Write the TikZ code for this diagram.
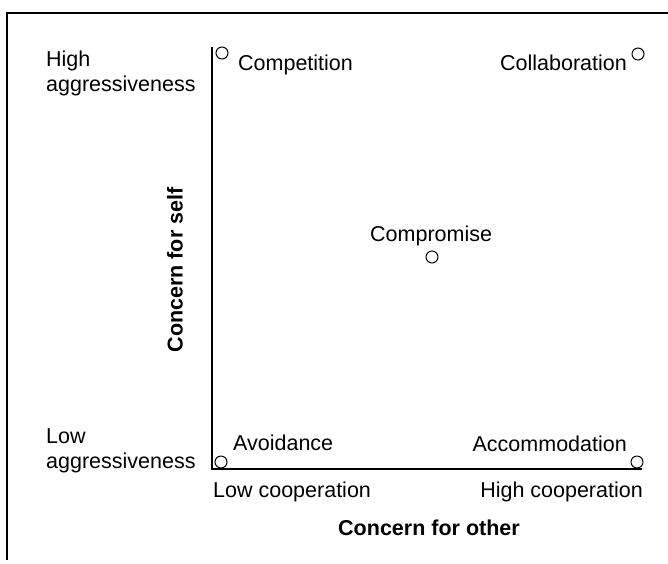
\documentclass[tikz,border=0pt]{standalone}
\usepackage{fontspec}
\setmainfont{Liberation Sans}
\usepackage{tikz}
\usetikzlibrary{positioning}

\tikzset{
  lbl/.style={inner sep=0pt, font=\fontsize{21.5}{24}\selectfont},
  axlbl/.style={inner sep=0pt, font=\fontsize{21.5}{24}\selectfont\bfseries},
  pt/.style={circle, draw, line width=1pt, minimum size=12pt, inner sep=0pt}
}

\begin{document}
\begin{tikzpicture}[x=1pt,y=-1pt]
\useasboundingbox (0,0) rectangle (668,563);
% frame
\draw [line width=1.4pt] (7,560) -- (7,13) -- (668,13);

% axes
\coordinate (origin) at (212,469);
\coordinate (ytop) at (212,47);
\coordinate (xend) at (642,469);
\draw [line width=1.2pt] (ytop) -- (origin) -- (xend);

% levels of aggressiveness
\node [lbl, anchor=base west] (high) at (46,66) {High};
\node [lbl, anchor=base west] (highagg) at (46,91) {aggressiveness};
\node [lbl, anchor=base west] (low) at (46,443) {Low};
\node [lbl, anchor=base west] (lowagg) at (46,468) {aggressiveness};

% levels of cooperation
\node [lbl, anchor=base west] (lowcoop) at (213,497) {Low cooperation};
\node [lbl, anchor=base east] (highcoop) at (643,497) {High cooperation};

% axis titles
\node [axlbl, anchor=base] (other) at (429,535) {Concern for other};
\node [axlbl, rotate=90] (self) at (175,270) {Concern for self};

% styles
\node [pt] (pcomp) at (222,53) {};
\node [lbl, anchor=base west] (comp) at (238,70) {Competition};
\node [pt] (pcoll) at (638,54) {};
\node [lbl, anchor=base east] (coll) at (627,70) {Collaboration};
\node [pt] (pcomr) at (432,257) {};
\node [lbl, anchor=base west] (comr) at (370,241) {Compromise};
\node [pt] (pavoid) at (221,462) {};
\node [lbl, anchor=base west] (avoid) at (233,450) {Avoidance};
\node [pt] (paccom) at (637,462) {};
\node [lbl, anchor=base east] (accom) at (627,451) {Accommodation};
\end{tikzpicture}
\end{document}
